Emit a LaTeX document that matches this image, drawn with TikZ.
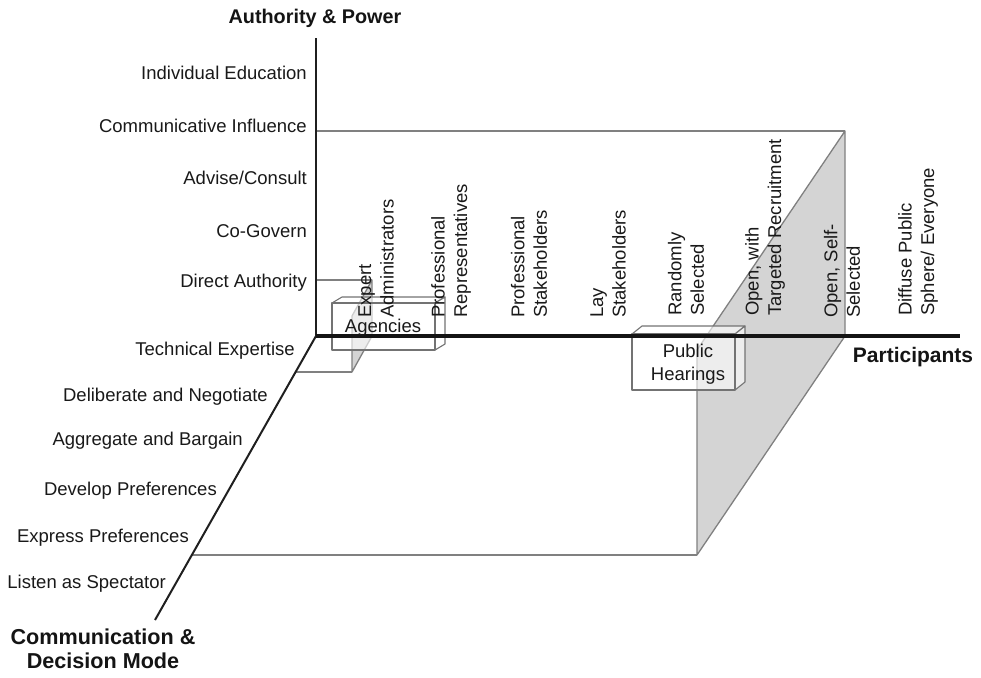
\documentclass[tikz,border=0pt]{standalone}
\usepackage{fontspec}
\setmainfont{Liberation Sans}
\begin{document}
\begin{tikzpicture}[x=1pt,y=-1pt]
\tikzset{
  lab/.style={font=\fontsize{18.5}{22.5}\selectfont, text=black!90, inner sep=0pt},
  rowlab/.style={lab, anchor=east},
  collab/.style={lab, rotate=90, anchor=west, align=left},
  ttl/.style={font=\fontsize{21}{24.5}\selectfont\bfseries, text=black!92, inner sep=0pt, align=center},
  axisline/.style={line width=2pt, black!88},
  haxis/.style={line width=3.2pt, black!92},
  region/.style={line width=1.3pt, black!50},
  face/.style={fill=black!17, draw=black!50, line width=1.3pt, line join=round},
  boxface/.style={draw=black!55, line width=1.1pt, fill=white, fill opacity=0.6, line join=round},
}
\useasboundingbox (0,0) rectangle (981,677);
% axis points
\coordinate (O) at (316,336);
\coordinate (Vtop) at (316,38);
\coordinate (Hend) at (960,336);
\coordinate (Dend) at (155,620);
% big region (public hearings)
\coordinate (CI) at (316,131);
\coordinate (A) at (845,131);
\coordinate (B) at (845,336);
\coordinate (C) at (697,555);
\coordinate (D) at (697,350);
\coordinate (E) at (191,555);
% small region (expert agencies)
\coordinate (DA) at (316,280);
\coordinate (a1) at (372,280);
\coordinate (a2) at (372,336);
\coordinate (a3) at (352,372);
\coordinate (a4) at (352,316);
\coordinate (te) at (296,372);

% faces
\draw[face] (A) -- (B) -- (C) -- (D) -- cycle;
\draw[face] (a1) -- (a2) -- (a3) -- (a4) -- cycle;
\draw[region] (CI) -- (A);
\draw[region] (E) -- (C);
\draw[region] (DA) -- (a1);
\draw[region] (te) -- (a3);

% Agencies box
\coordinate (g1) at (332,303);
\coordinate (g2) at (435,303);
\coordinate (g3) at (435,350);
\coordinate (g4) at (332,350);
\coordinate (g5) at (342,297);
\coordinate (g6) at (445,297);
\coordinate (g7) at (445,344);
\draw[boxface] (g1) -- (g5) -- (g6) -- (g2) -- cycle;
\draw[boxface] (g2) -- (g6) -- (g7) -- (g3) -- cycle;
\draw[boxface] (g1) rectangle (g3);

% Public Hearings box
\coordinate (p1) at (632,334);
\coordinate (p2) at (735,334);
\coordinate (p3) at (735,390);
\coordinate (p4) at (632,390);
\coordinate (p5) at (642,326);
\coordinate (p6) at (745,326);
\coordinate (p7) at (745,382);
\draw[boxface] (p1) -- (p5) -- (p6) -- (p2) -- cycle;
\draw[boxface] (p2) -- (p6) -- (p7) -- (p3) -- cycle;
\draw[boxface] (p1) rectangle (p3);

% axes
\draw[axisline] (O) -- (Vtop);
\draw[axisline] (O) -- (Dend);
\draw[haxis] (O) -- (Hend);

% box labels
\node[lab, align=center] (agencies) at (383,328) {Agencies};
\node[lab, align=center] (hearings) at (688,364) {Public\\Hearings};

% titles
\node[ttl, font=\fontsize{19.8}{24}\selectfont\bfseries] (tauth) at (315,18) {Authority \& Power};
\node[ttl] (tpart) at (913,357) {Participants};
\node[ttl, font=\fontsize{21.6}{24.5}\selectfont\bfseries] (tcomm) at (103,649) {Communication \&\\Decision Mode};

% vertical axis labels
\node[rowlab] (r1) at (307,73) {Individual Education};
\node[rowlab] (r2) at (307,126) {Communicative Influence};
\node[rowlab] (r3) at (307,178) {Advise/Consult};
\node[rowlab] (r4) at (307,231) {Co-Govern};
\node[rowlab] (r5) at (307,283) {Direct Authority};

% diagonal axis labels
\node[rowlab] (d1) at (295,351) {Technical Expertise};
\node[rowlab] (d2) at (268,397) {Deliberate and Negotiate};
\node[rowlab] (d3) at (243,441) {Aggregate and Bargain};
\node[rowlab] (d4) at (217,491) {Develop Preferences};
\node[rowlab] (d5) at (189,538) {Express Preferences};
\node[rowlab] (d6) at (166,584) {Listen as Spectator};

% participant columns
\node[collab] (c1) at (376,318) {Expert\\Administrators};
\node[collab] (c2) at (451,318) {Professional\\Representatives};
\node[collab] (c3) at (529,318) {Professional\\Stakeholders};
\node[collab] (c4) at (608,318) {Lay\\Stakeholders};
\node[collab] (c5) at (686,316) {Randomly\\Selected};
\node[collab] (c6) at (765,316) {Open, with\\Targeted Recruitment};
\node[collab] (c7) at (842,318) {Open, Self-\\Selected};
\node[collab] (c8) at (918,316) {Diffuse Public\\Sphere/ Everyone};
\end{tikzpicture}
\end{document}
